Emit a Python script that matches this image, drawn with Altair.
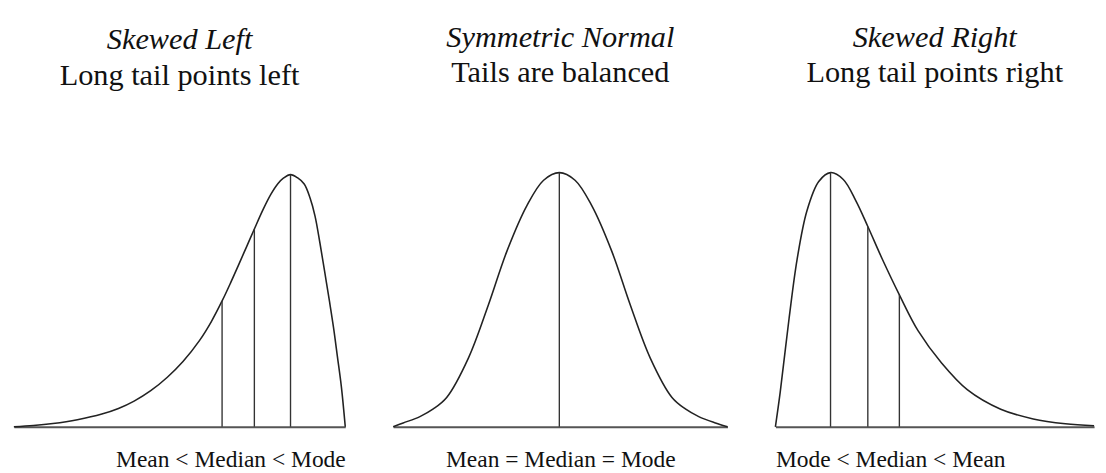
import altair as alt
import pandas as pd

FONT = "Liberation Serif"

# Skewed left curve (x in 0-100 panel units, h relative to panel height)
left_x = [0, 5.9, 11.8, 19.17, 26.55, 31.56, 36.28, 41.3, 46.31, 51.03, 56.05, 59.59, 62.83,
          65.49, 67.85, 70.21, 72.57, 75.22, 77.58, 79.65, 81.42, 83.48, 85.55, 87.61, 89.38,
          90.86, 92.33, 93.81, 95.28, 96.46, 97.64, 98.82, 100]
left_h = [0, 0.005, 0.013, 0.028, 0.05, 0.072, 0.101, 0.142, 0.195, 0.257, 0.34, 0.414, 0.495,
          0.569, 0.638, 0.708, 0.778, 0.855, 0.915, 0.956, 0.979, 0.992, 0.98, 0.955, 0.90,
          0.83, 0.725, 0.608, 0.49, 0.39, 0.275, 0.158, 0]
left_lines_x = [62.83, 72.57, 83.48]
left_lines_h = [0.495, 0.778, 0.992]

# Symmetric normal curve
mid_x = [0, 3, 8, 12, 16, 22.5, 28.5, 34, 40, 45, 49.7, 54.4, 59.4, 65.4, 70.9, 76.9, 83.4, 87.4, 91.4, 96.4, 100]
mid_h = [0, 0.015, 0.04, 0.07, 0.115, 0.27, 0.48, 0.69, 0.87, 0.97, 1.0, 0.97, 0.87, 0.69, 0.48, 0.27,
         0.115, 0.07, 0.04, 0.015, 0]
mid_lines_x = [49.7]
mid_lines_h = [1.0]

# Skewed right curve
right_x = [0, 1.5, 4.3, 6.8, 9.9, 13.6, 17.3, 21.3, 25.3, 29.0, 33.6, 38.9, 44.8, 52.2,
           60.2, 70.7, 80.9, 91.0, 100]
right_h = [0, 0.135, 0.427, 0.658, 0.85, 0.965, 1.0, 0.973, 0.888, 0.788, 0.658, 0.519, 0.377, 0.25,
           0.146, 0.069, 0.031, 0.012, 0.004]
right_lines_x = [17.3, 29.0, 38.9]
right_lines_h = [1.0, 0.788, 0.519]

titles = ["Skewed Left", "Symmetric Normal", "Skewed Right"]
subtitles = ["Long tail points left", "Tails are balanced", "Long tail points right"]
labels = ["Mean < Median  < Mode", "Mean = Median = Mode", "Mode < Median < Mean"]
anchors = ["end", "middle", "start"]
widths = [339, 342, 326]


def panel(xs, hs, lx, lh, w, title, subtitle, label, anchor):
    curve = pd.DataFrame({"x": xs, "h": hs})
    lines = pd.DataFrame({"x": lx, "h": lh, "base": [0] * len(lx)})
    xscale = alt.Scale(domain=[0, 100], nice=False, zero=False)
    yscale = alt.Scale(domain=[0, 1], nice=False)
    line = alt.Chart(curve).mark_line(
        color="#222", strokeWidth=1.6, interpolate="catmull-rom"
    ).encode(
        x=alt.X("x:Q", scale=xscale, axis=alt.Axis(
            title=label, labels=False, ticks=False, grid=False,
            domainColor="#555", domainWidth=2,
            titleFont=FONT, titleFontSize=24, titleFontWeight="normal",
            titleColor="#111", titleAnchor=anchor, titlePadding=22)),
        y=alt.Y("h:Q", scale=yscale, axis=None),
    )
    rules = alt.Chart(lines).mark_rule(color="#333", strokeWidth=1.4).encode(
        x=alt.X("x:Q", scale=xscale),
        y=alt.Y("h:Q", scale=yscale),
        y2="base:Q",
    )
    return alt.layer(line, rules).properties(
        width=w, height=260,
        title=alt.TitleParams(
            text=title, subtitle=subtitle, anchor="middle",
            font=FONT, fontSize=31, fontStyle="italic", fontWeight="normal", color="#111",
            subtitleFont=FONT, subtitleFontSize=31, subtitleFontStyle="normal",
            subtitleFontWeight="normal", subtitleColor="#111", subtitlePadding=5,
            offset=82,
        ),
    )


p1 = panel(left_x, left_h, left_lines_x, left_lines_h, widths[0], titles[0], subtitles[0], labels[0], anchors[0])
p2 = panel(mid_x, mid_h, mid_lines_x, mid_lines_h, widths[1], titles[1], subtitles[1], labels[1], anchors[1])
p3 = panel(right_x, right_h, right_lines_x, right_lines_h, widths[2], titles[2], subtitles[2], labels[2], anchors[2])

chart = alt.hconcat(p1, p2, p3, spacing=41).properties(
    padding={"left": 2, "top": 9, "right": 0, "bottom": 0},
    background="white",
).configure_view(stroke=None)

chart.save("out.html", embed_options={"renderer": "svg", "actions": False})
